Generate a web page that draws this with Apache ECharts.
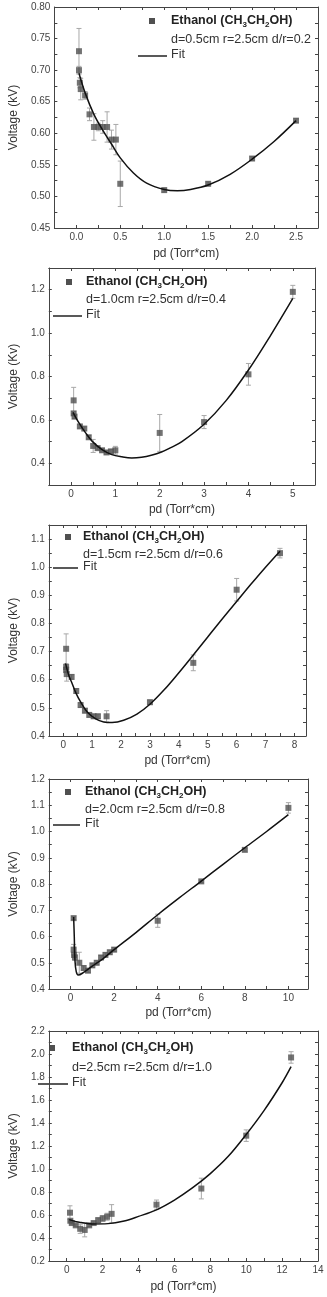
<!DOCTYPE html>
<html><head><meta charset="utf-8">
<script src="https://cdn.jsdelivr.net/npm/echarts@6/dist/echarts.min.js"></script>
<style>html,body{margin:0;padding:0;background:#fff}#c{width:327px;height:1297px}</style>
</head><body><div id="c"></div>
<script>
// ---------- DATA ----------
const SERIES_NAME = 'Ethanol (CH3CH2OH)';
const X_TITLE = 'pd (Torr*cm)';

// Panel 1: d=0.5cm
const P1_INFO = 'd=0.5cm r=2.5cm d/r=0.2';
const P1_YNAME = 'Voltage (kV)';
const P1_X   = [0.03, 0.03, 0.04, 0.05, 0.10, 0.15, 0.20, 0.25, 0.30, 0.35, 0.40, 0.45, 0.50, 1.0, 1.5, 2.0, 2.5];
const P1_Y   = [0.73, 0.70, 0.68, 0.67, 0.66, 0.63, 0.61, 0.61, 0.61, 0.61, 0.59, 0.59, 0.52, 0.51, 0.52, 0.56, 0.62];
const P1_ERR = [0.036, 0.006, 0.008, 0.017, 0.006, 0.010, 0.021, 0.006, 0.010, 0.024, 0.015, 0.024, 0.036, 0.003, 0.003, 0.003, 0.003];
const P1_FIT_X = [0.03, 0.1, 0.2, 0.3, 0.4, 0.5, 0.65, 0.8, 1.0, 1.15, 1.3, 1.5, 1.75, 2.0, 2.25, 2.5];
const P1_FIT_Y = [0.695, 0.664, 0.63, 0.605, 0.583, 0.561, 0.537, 0.521, 0.511, 0.509, 0.511, 0.518, 0.535, 0.559, 0.587, 0.62];

// Panel 2: d=1.0cm
const P2_INFO = 'd=1.0cm r=2.5cm d/r=0.4';
const P2_YNAME = 'Voltage (Kv)';
const P2_X   = [0.06, 0.06, 0.08, 0.2, 0.3, 0.4, 0.5, 0.6, 0.7, 0.8, 0.9, 1.0, 2.0, 3.0, 4.0, 5.0];
const P2_Y   = [0.69, 0.63, 0.615, 0.57, 0.56, 0.52, 0.48, 0.47, 0.46, 0.45, 0.455, 0.46, 0.54, 0.59, 0.81, 1.19];
const P2_ERR = [0.06, 0.008, 0.008, 0.008, 0.008, 0.008, 0.03, 0.008, 0.008, 0.008, 0.008, 0.018, 0.085, 0.03, 0.05, 0.03];
const P2_FIT_X = [0.045, 0.18, 0.33, 0.48, 0.7, 0.92, 1.15, 1.37, 1.59, 1.81, 2.04, 2.25, 2.5, 3.0, 3.5, 4.0, 4.5, 5.0];
const P2_FIT_Y = [0.635, 0.586, 0.54, 0.501, 0.463, 0.44, 0.43, 0.425, 0.428, 0.437, 0.452, 0.472, 0.50, 0.58, 0.69, 0.83, 0.99, 1.16];

// Panel 3: d=1.5cm
const P3_INFO = 'd=1.5cm r=2.5cm d/r=0.6';
const P3_YNAME = 'Voltage (kV)';
const P3_X   = [0.1, 0.1, 0.1, 0.12, 0.29, 0.45, 0.6, 0.75, 0.9, 1.05, 1.2, 1.5, 3.0, 4.5, 6.0, 7.5];
const P3_Y   = [0.71, 0.645, 0.635, 0.62, 0.61, 0.56, 0.51, 0.49, 0.475, 0.47, 0.47, 0.47, 0.52, 0.66, 0.92, 1.05];
const P3_ERR = [0.053, 0.01, 0.01, 0.025, 0.008, 0.008, 0.008, 0.008, 0.008, 0.008, 0.008, 0.02, 0.008, 0.028, 0.04, 0.017];
const P3_FIT_X = [0.08, 0.19, 0.31, 0.42, 0.6, 0.83, 1.11, 1.4, 1.69, 2.09, 2.55, 3.0, 3.5, 4.0, 4.5, 5.0, 5.5, 6.0, 6.5, 7.0, 7.5];
const P3_FIT_Y = [0.658, 0.616, 0.586, 0.557, 0.521, 0.485, 0.462, 0.45, 0.448, 0.456, 0.478, 0.513, 0.565, 0.625, 0.688, 0.752, 0.816, 0.878, 0.94, 1.0, 1.057];

// Panel 4: d=2.0cm
const P4_INFO = 'd=2.0cm r=2.5cm d/r=0.8';
const P4_YNAME = 'Voltage (kV)';
const P4_X   = [0.14, 0.14, 0.16, 0.2, 0.4, 0.6, 0.8, 1.0, 1.2, 1.4, 1.6, 1.8, 2.0, 4.0, 6.0, 8.0, 10.0];
const P4_Y   = [0.67, 0.55, 0.53, 0.52, 0.50, 0.48, 0.47, 0.49, 0.50, 0.52, 0.53, 0.54, 0.55, 0.66, 0.81, 0.93, 1.09];
const P4_ERR = [0.005, 0.02, 0.01, 0.01, 0.04, 0.008, 0.008, 0.008, 0.008, 0.008, 0.008, 0.008, 0.008, 0.025, 0.005, 0.005, 0.02];
const P4_FIT_X = [0.14, 0.17, 0.2, 0.26, 0.35, 0.58, 0.96, 1.5, 2.0, 3.0, 4.0, 5.0, 6.0, 7.0, 8.0, 9.0, 10.0];
const P4_FIT_Y = [0.674, 0.6, 0.51, 0.466, 0.453, 0.462, 0.485, 0.516, 0.55, 0.615, 0.683, 0.748, 0.811, 0.875, 0.938, 1.0, 1.064];

// Panel 5: d=2.5cm
const P5_INFO = 'd=2.5cm r=2.5cm d/r=1.0';
const P5_YNAME = 'Voltage (kV)';
const P5_X   = [0.18, 0.2, 0.28, 0.5, 0.75, 1.0, 1.25, 1.5, 1.75, 2.0, 2.25, 2.5, 5.0, 7.5, 10.0, 12.5];
const P5_Y   = [0.62, 0.55, 0.53, 0.51, 0.48, 0.47, 0.51, 0.53, 0.555, 0.57, 0.585, 0.61, 0.69, 0.83, 1.29, 1.97];
const P5_ERR = [0.06, 0.01, 0.01, 0.01, 0.04, 0.06, 0.01, 0.01, 0.02, 0.025, 0.03, 0.08, 0.04, 0.09, 0.05, 0.05];
const P5_FIT_X = [0.14, 0.7, 1.4, 2.3, 3.2, 4.0, 5.0, 6.0, 7.0, 8.0, 9.0, 10.0, 11.0, 12.0, 12.5];
const P5_FIT_Y = [0.56, 0.537, 0.522, 0.525, 0.548, 0.588, 0.645, 0.73, 0.835, 0.96, 1.11, 1.30, 1.51, 1.75, 1.89];

// ---------- LAYOUT ----------
const FONT = '"Liberation Sans", Arial, sans-serif';
const AXIS_C = '#444';
const panels = [
  {x:P1_X,y:P1_Y,e:P1_ERR,fx:P1_FIT_X,fy:P1_FIT_Y,info:P1_INFO,yName:P1_YNAME,
   grid:{left:45,top:7,width:273,height:221},
   xr:{min:-0.25,max:2.75,iv:0.25,step:0.5,dec:1}, yr:{min:0.45,max:0.80,iv:0.025,step:0.05,dec:2},
   xGap:20,yGap:24, leg:{mx:152,my:21,tx:171,iy:40,fyy:56,fl:[138,167]}},
  {x:P2_X,y:P2_Y,e:P2_ERR,fx:P2_FIT_X,fy:P2_FIT_Y,info:P2_INFO,yName:P2_YNAME,
   grid:{left:46,top:268,width:269,height:217},
   xr:{min:-0.5,max:5.5,iv:0.5,step:1,dec:0}, yr:{min:0.3,max:1.3,iv:0.1,step:0.2,dec:1},
   xGap:19,yGap:21, leg:{mx:69,my:282,tx:86,iy:300,fyy:316,fl:[53,82]}},
  {x:P3_X,y:P3_Y,e:P3_ERR,fx:P3_FIT_X,fy:P3_FIT_Y,info:P3_INFO,yName:P3_YNAME,
   grid:{left:48,top:525,width:258,height:211},
   xr:{min:-0.5,max:8.4,iv:0.5,step:1,dec:0}, yr:{min:0.4,max:1.15,iv:0.05,step:0.1,dec:1},
   xGap:19,yGap:19, leg:{mx:68,my:537,tx:83,iy:555,fyy:568,fl:[53,78]}},
  {x:P4_X,y:P4_Y,e:P4_ERR,fx:P4_FIT_X,fy:P4_FIT_Y,info:P4_INFO,yName:P4_YNAME,
   grid:{left:47,top:779,width:261,height:210},
   xr:{min:-1,max:10.9,iv:1,step:2,dec:0}, yr:{min:0.4,max:1.2,iv:0.05,step:0.1,dec:1},
   xGap:18,yGap:18, leg:{mx:68,my:792,tx:85,iy:810,fyy:825,fl:[53,80]}},
  {x:P5_X,y:P5_Y,e:P5_ERR,fx:P5_FIT_X,fy:P5_FIT_Y,info:P5_INFO,yName:P5_YNAME,
   grid:{left:35,top:1031,width:283,height:230},
   xr:{min:-1,max:14,iv:1,step:2,dec:0}, yr:{min:0.2,max:2.2,iv:0.1,step:0.2,dec:1},
   xGap:20,yGap:22, leg:{mx:52,my:1048,tx:72,iy:1068,fyy:1084,fl:[38,68]}}
];

function fmt(step, dec){
  return function(v){
    const r = v/step;
    return Math.abs(r - Math.round(r)) < 1e-6 ? v.toFixed(dec) : '';
  };
}
function axisBase(r, gi, pos, labels){
  return {
    type:'value', gridIndex:gi, position:pos, min:r.min, max:r.max, interval:r.iv,
    axisLine:{show:true, onZero:false, lineStyle:{color:AXIS_C, width:1}},
    axisTick:{show:true, inside:true, length:3, lineStyle:{color:AXIS_C}},
    splitLine:{show:false},
    axisLabel:{show:labels, formatter:fmt(r.step, r.dec), color:'#444', fontSize:10, fontFamily:FONT, margin:4}
  };
}

const grids=[], xAxes=[], yAxes=[], series=[], graphics=[];
panels.forEach((p,k)=>{
  grids.push(Object.assign({containLabel:false}, p.grid));
  const xb = axisBase(p.xr,k,'bottom',true);
  xb.name = X_TITLE; xb.nameLocation='middle'; xb.nameGap=p.xGap;
  xb.nameTextStyle={color:'#333', fontSize:12, fontFamily:FONT};
  xAxes.push(xb);
  xAxes.push(axisBase(p.xr,k,'top',false));
  const yl = axisBase(p.yr,k,'left',true);
  yl.name = p.yName; yl.nameLocation='middle'; yl.nameGap=p.yGap; yl.nameRotate=90;
  yl.nameTextStyle={color:'#333', fontSize:12, fontFamily:FONT};
  yAxes.push(yl);
  yAxes.push(axisBase(p.yr,k,'right',false));
  const xi = 2*k, yi = 2*k;
  series.push({
    type:'custom', xAxisIndex:xi, yAxisIndex:yi, z:2, silent:true,
    data:p.x.map((v,i)=>[v,p.y[i],p.e[i]]),
    encode:{x:0,y:1},
    renderItem:function(params, api){
      const x=api.value(0), y=api.value(1), e=api.value(2);
      const t=api.coord([x,y+e]), b=api.coord([x,y-e]);
      const w=2.5, st={stroke:'#a8a8a8', lineWidth:1};
      return {type:'group', children:[
        {type:'line', shape:{x1:t[0],y1:t[1],x2:b[0],y2:b[1]}, style:st},
        {type:'line', shape:{x1:t[0]-w,y1:t[1],x2:t[0]+w,y2:t[1]}, style:st},
        {type:'line', shape:{x1:b[0]-w,y1:b[1],x2:b[0]+w,y2:b[1]}, style:st}
      ]};
    }
  });
  series.push({
    type:'scatter', name:SERIES_NAME, xAxisIndex:xi, yAxisIndex:yi, z:3,
    symbol:'rect', symbolSize:6, itemStyle:{color:'#505050'},
    data:p.x.map((v,i)=>[v,p.y[i]])
  });
  series.push({
    type:'line', name:'Fit', xAxisIndex:xi, yAxisIndex:yi, z:4,
    showSymbol:false, smooth:0.35,
    lineStyle:{color:'#111', width:1.5},
    data:p.fx.map((v,i)=>[v,p.fy[i]])
  });
  const L=p.leg;
  graphics.push({type:'rect', shape:{x:L.mx-3,y:L.my-3,width:6,height:6}, style:{fill:'#505050'}});
  graphics.push({type:'text', x:L.tx, y:L.my, style:{
    text:'{b|Ethanol (CH}{s|3}{b|CH}{s|2}{b|OH)}', verticalAlign:'middle',
    rich:{
      b:{fontWeight:'bold', fontSize:12.5, fontFamily:FONT, fill:'#222', lineHeight:16},
      s:{fontWeight:'bold', fontSize:8, fontFamily:FONT, fill:'#222', lineHeight:9, verticalAlign:'bottom'}
    }}});
  graphics.push({type:'text', x:L.tx, y:L.iy, style:{text:p.info, fontSize:12.5, fontFamily:FONT, fill:'#333', verticalAlign:'middle'}});
  graphics.push({type:'line', shape:{x1:L.fl[0],y1:L.fyy,x2:L.fl[1],y2:L.fyy}, style:{stroke:'#222', lineWidth:1.5}});
  graphics.push({type:'text', x:L.tx, y:L.fyy-1, style:{text:'Fit', fontSize:12.5, fontFamily:FONT, fill:'#333', verticalAlign:'middle'}});
});

const chart = echarts.init(document.getElementById('c'), null, {renderer:'canvas'});
chart.setOption({
  animation:false, backgroundColor:'#fff',
  grid:grids, xAxis:xAxes, yAxis:yAxes, series:series, graphic:graphics
});
</script></body></html>
